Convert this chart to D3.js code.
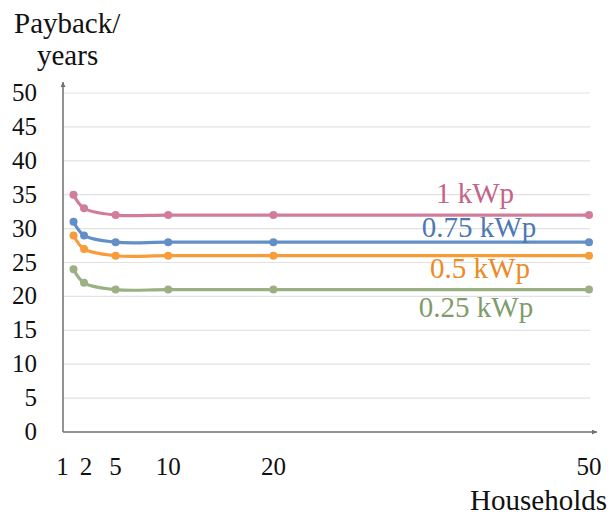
<!DOCTYPE html>
<html>
<head>
<meta charset="utf-8">
<script src="https://cdn.jsdelivr.net/npm/d3@7"></script>
<style>
  body { margin: 0; background: #fff; }
</style>
</head>
<body>
<svg id="chart" width="615" height="515" font-family="'Liberation Serif', 'DejaVu Serif', serif"></svg>
<script>
// Haushalte (x) und Amortisationszeit in Jahren je Anlagengröße
const households = [1, 2, 5, 10, 20, 50];
const seriesNames = ["1 kWp", "0.75 kWp", "0.5 kWp", "0.25 kWp"];
const payback1 = [35, 33, 32, 32, 32, 32];
const payback075 = [31, 29, 28, 28, 28, 28];
const payback05 = [29, 27, 26, 26, 26, 26];
const payback025 = [24, 22, 21, 21, 21, 21];
const yTicks = [0, 5, 10, 15, 20, 25, 30, 35, 40, 45, 50];

const series = [
  { name: seriesNames[0], values: payback1, line: "#d27c9b", label: "#c4648a", lx: 475, ly: 203 },
  { name: seriesNames[1], values: payback075, line: "#628fc8", label: "#4c79b4", lx: 479, ly: 237 },
  { name: seriesNames[2], values: payback05, line: "#f89c3a", label: "#ec8a25", lx: 480, ly: 278 },
  { name: seriesNames[3], values: payback025, line: "#9bb183", label: "#809c6b", lx: 476, ly: 317 }
];

const svg = d3.select("#chart");

const x = d3.scaleLinear().domain([0, 50]).range([63, 589]);
const y = d3.scaleLinear().domain([0, 50]).range([432, 93]);

// Gitterlinien
svg.append("g")
  .selectAll("line")
  .data(yTicks.filter(function(d) { return d > 0; }))
  .join("line")
  .attr("x1", x(0))
  .attr("x2", 590)
  .attr("y1", function(d) { return y(d); })
  .attr("y2", function(d) { return y(d); })
  .attr("stroke", "#e2e2e2")
  .attr("stroke-width", 1.2);

// Pfeilspitze
svg.append("defs").append("marker")
  .attr("id", "arrow")
  .attr("viewBox", "0 0 10 10")
  .attr("refX", 10).attr("refY", 5)
  .attr("markerWidth", 5).attr("markerHeight", 5)
  .attr("markerUnits", "userSpaceOnUse")
  .attr("orient", "auto")
  .append("path")
  .attr("d", "M0,0 L10,5 L0,10 Z")
  .attr("fill", "#6f6f6f");

// Achsen
svg.append("line")
  .attr("x1", x(0)).attr("x2", x(0))
  .attr("y1", y(0)).attr("y2", 82)
  .attr("stroke", "#6f6f6f").attr("stroke-width", 1.5)
  .attr("marker-end", "url(#arrow)");
svg.append("line")
  .attr("x1", x(0)).attr("x2", 597)
  .attr("y1", y(0)).attr("y2", y(0))
  .attr("stroke", "#6f6f6f").attr("stroke-width", 1.5)
  .attr("marker-end", "url(#arrow)");

// Y-Beschriftung
svg.append("g")
  .selectAll("text")
  .data(yTicks)
  .join("text")
  .attr("x", 37)
  .attr("y", function(d) { return y(d) + 8; })
  .attr("text-anchor", "end")
  .attr("font-size", 25)
  .attr("fill", "#111")
  .text(function(d) { return d; });

// X-Beschriftung ("1" und "2" liegen so eng, dass die 1 nach links rückt)
svg.append("g")
  .selectAll("text")
  .data(households)
  .join("text")
  .attr("x", function(d) { return x(d) + (d === 1 ? -11 : (d === 2 ? 2 : 0)); })
  .attr("y", 475)
  .attr("text-anchor", "middle")
  .attr("font-size", 25)
  .attr("fill", "#111")
  .text(function(d) { return d; });

svg.append("text")
  .attr("x", 14).attr("y", 33)
  .attr("font-size", 29).attr("fill", "#111")
  .text("Payback/");
svg.append("text")
  .attr("x", 37).attr("y", 65)
  .attr("font-size", 29).attr("fill", "#111")
  .text("years");
svg.append("text")
  .attr("x", 607).attr("y", 510)
  .attr("text-anchor", "end")
  .attr("font-size", 29).attr("fill", "#111")
  .text("Households");

// Linien
const line = d3.line()
  .x(function(d, i) { return x(households[i]); })
  .y(function(d) { return y(d); })
  .curve(d3.curveCatmullRom.alpha(0.5));

series.forEach(function(s) {
  const g = svg.append("g");
  g.append("path")
    .attr("d", line(s.values))
    .attr("fill", "none")
    .attr("stroke", s.line)
    .attr("stroke-width", 3.2);
  g.selectAll("circle")
    .data(s.values)
    .join("circle")
    .attr("cx", function(d, i) { return x(households[i]); })
    .attr("cy", function(d) { return y(d); })
    .attr("r", 4)
    .attr("fill", s.line);
  g.append("text")
    .attr("x", s.lx).attr("y", s.ly)
    .attr("text-anchor", "middle")
    .attr("font-size", 29)
    .attr("fill", s.label)
    .text(s.name);
});
</script>
</body>
</html>
